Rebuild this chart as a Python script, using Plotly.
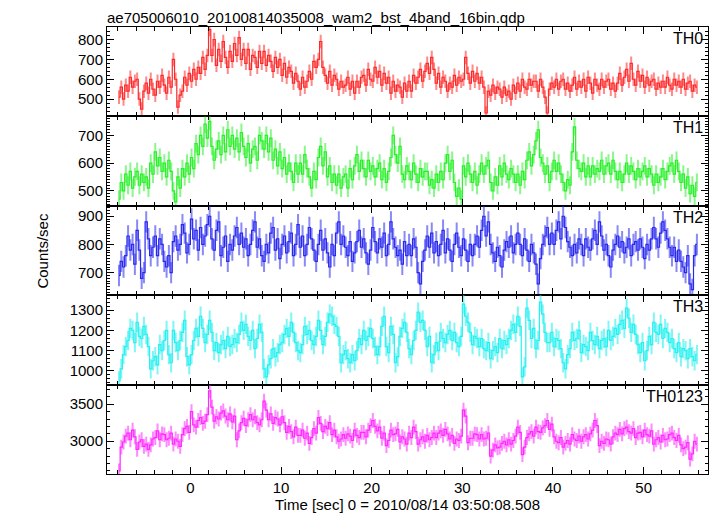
import numpy as np
import plotly.graph_objects as go
from plotly.subplots import make_subplots

# ---- data (counts/sec, 0.25 s bins starting at t = -8 s) ----
BIN_START = -8.0
BIN_WIDTH = 0.25

TH0 = [
    510, 560, 500, 570, 540, 610, 560, 590, 600, 500, 450, 540, 580, 530, 600, 550,
    520, 590, 560, 620, 570, 530, 610, 560, 700, 600, 460, 520, 540, 610, 570, 630,
    590, 650, 600, 660, 630, 710, 650, 720, 850, 720, 800, 670, 750, 690, 790, 710,
    660, 740, 690, 780, 720, 810, 700, 750, 680, 750, 650, 720, 710, 660, 740, 680,
    740, 670, 720, 690, 640, 710, 660, 700, 620, 680, 610, 660, 640, 580, 630, 590,
    550, 610, 560, 590, 640, 600, 690, 660, 700, 790, 660, 620, 580, 640, 570, 620,
    600, 550, 590, 560, 570, 610, 550, 590, 530, 590, 560, 610, 620, 570, 650, 600,
    590, 660, 610, 640, 570, 630, 580, 610, 530, 590, 540, 570, 560, 510, 580, 540,
    590, 540, 620, 580, 610, 650, 590, 640, 680, 630, 710, 650, 580, 630, 560, 610,
    590, 540, 580, 560, 620, 570, 610, 590, 600, 710, 630, 580, 640, 590, 630, 580,
    610, 560, 430, 540, 520, 570, 530, 560, 550, 510, 560, 520, 540, 500, 570, 530,
    580, 540, 600, 560, 550, 600, 570, 590, 590, 540, 600, 560, 510, 430, 550, 580,
    560, 600, 550, 590, 600, 550, 580, 540, 570, 610, 550, 590, 560, 600, 540, 610,
    580, 530, 600, 570, 550, 600, 560, 590, 600, 550, 580, 540, 580, 630, 570, 610,
    650, 590, 680, 600, 570, 640, 590, 620, 560, 610, 570, 590, 600, 550, 580, 560,
    590, 560, 610, 570, 550, 600, 570, 590, 560, 600, 550, 580, 590, 540, 570, 560,
]

TH1 = [
    470, 530, 500, 560, 520, 570, 510, 550, 570, 520, 560, 530, 550, 510, 600, 560,
    640, 590, 620, 570, 600, 550, 610, 570, 500, 460, 550, 510, 580, 550, 600, 560,
    620, 580, 670, 630, 700, 660, 740, 690, 750, 660, 610, 650, 680, 630, 700, 640,
    720, 660, 700, 650, 690, 640, 710, 660, 620, 670, 600, 650, 660, 610, 700, 680,
    650, 700, 640, 690, 610, 650, 590, 640, 580, 620, 560, 600, 570, 530, 600, 560,
    600, 560, 630, 580, 550, 510, 570, 540, 620, 660, 590, 640, 550, 590, 530, 560,
    520, 560, 510, 550, 560, 510, 580, 540, 590, 630, 570, 610, 580, 550, 610, 570,
    590, 550, 580, 600, 540, 580, 530, 570, 620, 700, 630, 600, 660, 560, 540, 590,
    570, 540, 600, 560, 530, 580, 550, 570, 570, 520, 540, 510, 560, 530, 570, 540,
    600, 630, 570, 610, 530, 480, 510, 470, 590, 550, 600, 560, 530, 570, 520, 560,
    600, 560, 590, 610, 530, 500, 550, 520, 590, 550, 600, 560, 540, 580, 560, 530,
    560, 520, 570, 540, 610, 640, 590, 630, 680, 720, 620, 600, 560, 590, 530, 570,
    610, 570, 600, 560, 530, 500, 540, 520, 640, 730, 610, 580, 570, 600, 550, 590,
    550, 590, 560, 580, 570, 610, 560, 590, 600, 560, 610, 570, 540, 570, 530, 560,
    600, 560, 590, 570, 540, 580, 550, 570, 590, 550, 580, 560, 520, 560, 530, 550,
    580, 540, 570, 590, 600, 560, 610, 570, 530, 560, 510, 550, 490, 520, 480, 530,
]

TH2 = [
    690, 740, 720, 760, 830, 780, 800, 730, 850, 780, 680, 700, 880, 820, 760, 790,
    830, 760, 820, 800, 740, 720, 760, 700, 810, 830, 780, 800, 870, 840, 770, 800,
    890, 820, 850, 780, 860, 800, 830, 870, 900, 820, 780, 850, 880, 760, 790, 830,
    740, 800, 780, 830, 860, 800, 840, 790, 820, 760, 800, 850, 880, 790, 820, 760,
    740, 800, 770, 840, 860, 780, 820, 750, 800, 830, 770, 810, 840, 760, 800, 870,
    790, 830, 760, 800, 860, 820, 780, 740, 800, 850, 780, 820, 770, 720, 800, 760,
    840, 880, 800, 830, 790, 760, 810, 740, 770, 810, 850, 790, 820, 770, 730, 780,
    860, 810, 770, 820, 790, 840, 760, 800, 880, 820, 790, 760, 780, 730, 810, 760,
    800, 760, 820, 790, 700, 660, 740, 780, 830, 790, 840, 770, 810, 760, 800, 850,
    770, 820, 780, 740, 800, 840, 790, 760, 820, 780, 740, 800, 760, 800, 830, 790,
    850, 900, 830, 880, 800, 770, 740, 790, 760, 720, 780, 810, 790, 830, 770, 800,
    840, 800, 760, 820, 780, 740, 800, 770, 730, 660, 750, 800, 830, 860, 800, 840,
    800, 850, 880, 820, 900, 860, 810, 790, 760, 800, 770, 820, 800, 760, 820, 790,
    780, 820, 850, 800, 880, 830, 780, 800, 760, 720, 780, 800, 830, 790, 810, 770,
    790, 820, 760, 800, 810, 780, 820, 790, 750, 800, 780, 820, 860, 820, 790, 840,
    880, 850, 820, 790, 760, 790, 740, 780, 740, 720, 700, 760, 660, 640, 760, 800,
]

TH3 = [
    950, 1010, 1080, 1120, 1150, 1210, 1200, 1140, 1240, 1170, 1160, 1220, 1180, 1120, 1010, 1050,
    1070, 1030, 1130, 1100, 1150, 1200, 1080, 1040, 1200, 1140, 1100, 1150, 1190, 1250, 1070, 1030,
    1080, 1150, 1210, 1170, 1270, 1210, 1140, 1180, 1250, 1190, 1100, 1140, 1090, 1130, 1150, 1110,
    1170, 1120, 1130, 1160, 1140, 1180, 1240, 1200, 1230, 1170, 1150, 1200, 1110, 1160, 1230, 1190,
    1010, 970, 1030, 1060, 1110, 1070, 1090, 1130, 1140, 1180, 1210, 1170, 1240, 1190, 1140, 1100,
    1090, 1130, 1220, 1180, 1200, 1150, 1130, 1170, 1250, 1200, 1130, 1170, 1240, 1280, 1270, 1230,
    1220, 1170, 1040, 1080, 1100, 1060, 1040, 1080, 1050, 1100, 1160, 1130, 1200, 1150, 1170, 1210,
    1160, 1120, 1080, 1120, 1220, 1270, 1120, 1090, 1220, 1180, 1040, 1070, 1170, 1210, 1240, 1190,
    1110, 1080, 1150, 1200, 1290, 1240, 1250, 1200, 1120, 1170, 1040, 1080, 1140, 1100, 1190, 1160,
    1140, 1180, 1200, 1150, 1190, 1140, 1120, 1170, 1330, 1270, 1240, 1190, 1130, 1170, 1160, 1120,
    1160, 1110, 1100, 1140, 1060, 1100, 1120, 1090, 1160, 1110, 1150, 1130, 1160, 1200, 1230, 1190,
    1270, 1220, 970, 1020, 1310, 1250, 1160, 1210, 1110, 1150, 1340, 1280, 1190, 1140, 1140, 1190,
    1120, 1160, 1150, 1110, 1040, 1010, 1080, 1110, 1190, 1150, 1160, 1200, 1090, 1130, 1120, 1100,
    1190, 1150, 1130, 1170, 1110, 1150, 1160, 1120, 1200, 1150, 1170, 1210, 1180, 1230, 1250, 1210,
    1310, 1260, 1190, 1230, 1180, 1130, 1090, 1140, 1050, 1100, 1170, 1130, 1240, 1190, 1180, 1230,
    1160, 1210, 1190, 1140, 1160, 1110, 1090, 1140, 1070, 1110, 1100, 1060, 1110, 1070, 1050, 1080,
]

TH0123 = [
    2600, 2920, 2990, 3070, 3110, 3020, 3150, 3060, 2890, 2990, 3020, 2930, 2960, 2890, 2950, 3030,
    3050, 3140, 3020, 3100, 3090, 3020, 3040, 3110, 2960, 3030, 3000, 2930, 3090, 3170, 3200, 3120,
    3400, 3220, 3190, 3280, 3320, 3240, 3270, 3360, 3680, 3460, 3270, 3330, 3300, 3380, 3410, 3340,
    3290, 3370, 3260, 3340, 3020, 3140, 3250, 3310, 3210, 3290, 3360, 3290, 3330, 3250, 3220, 3290,
    3540, 3420, 3290, 3370, 3240, 3320, 3300, 3220, 3330, 3250, 3120, 3200, 3130, 3060, 3190, 3080,
    3080, 3150, 3040, 3110, 2970, 3050, 3170, 3110, 3320, 3240, 3130, 3200, 3170, 3250, 3090, 3150,
    3060, 3000, 3030, 3090, 3040, 3100, 3070, 3010, 3150, 3080, 3050, 3120, 3120, 3060, 3150, 3210,
    3280, 3200, 3140, 3190, 3040, 3110, 2940, 3010, 3150, 3090, 3100, 3160, 2990, 3060, 3030, 2960,
    3110, 3050, 3190, 3130, 2960, 3020, 3060, 3000, 3080, 3020, 3050, 3110, 3050, 3110, 3140, 3080,
    3160, 3100, 3030, 3080, 2970, 3030, 3010, 3070, 3420, 3340, 2980, 3040, 3040, 3100, 3090, 3030,
    3090, 3030, 3040, 3110, 2800, 2880, 2950, 2910, 2920, 2970, 3000, 2950, 3020, 2960, 3010, 3070,
    3190, 3120, 2820, 2920, 3050, 3100, 3130, 3070, 3190, 3130, 3120, 3180, 3210, 3280, 3160, 3230,
    3060, 3000, 2980, 3050, 2920, 2970, 3010, 2960, 3090, 3030, 3010, 3070, 3000, 3060, 3090, 3030,
    3100, 3150, 3280, 3210, 2940, 3000, 2970, 3030, 3020, 2960, 3060, 3110, 3090, 3160, 3100, 3170,
    3190, 3130, 3110, 3170, 3050, 3110, 3120, 3060, 3150, 3090, 3070, 3140, 2960, 3020, 3050, 2990,
    3080, 3020, 3030, 3090, 3110, 3050, 3010, 3080, 2950, 2900, 2920, 2980, 2760, 2830, 3000, 2960,
]

PANEL_LABELS = ["TH0", "TH1", "TH2", "TH3", "TH0123"]
PANEL_SERIES = [TH0, TH1, TH2, TH3, TH0123]
PANEL_ERRORS = [34, 32, 38, 48, 100]
PANEL_COLORS = ["#ff2828", "#28f028", "#2828f0", "#28f0f0", "#ff28ff"]
PANEL_BAR_COLORS = ["rgba(255,40,40,0.55)", "rgba(40,240,40,0.55)", "rgba(40,40,240,0.55)",
                    "rgba(40,240,240,0.6)", "rgba(255,40,255,0.55)"]
PANEL_RANGES = [[413, 863], [446, 768], [620, 937], [932, 1374], [2558, 3764]]
PANEL_TICKS = [[500, 600, 700, 800], [500, 600, 700], [700, 800, 900],
               [1000, 1100, 1200, 1300], [3000, 3500]]
PANEL_MINOR = [20, 10, 10, 20, 100]
X_TICKS = [0, 10, 20, 30, 40, 50]

FONT = "Liberation Sans, Arial, sans-serif"

fig = make_subplots(rows=5, cols=1, shared_xaxes=True, vertical_spacing=0)

for i, (name, series) in enumerate(zip(PANEL_LABELS, PANEL_SERIES)):
    y = np.array(series, dtype=float)
    t = BIN_START + BIN_WIDTH * (np.arange(len(y)) + 0.5)
    fig.add_trace(go.Scatter(
        x=t, y=y, mode="lines",
        line=dict(color=PANEL_COLORS[i], width=1.2, shape="hvh"),
        error_y=dict(type="constant", value=PANEL_ERRORS[i], color=PANEL_BAR_COLORS[i],
                     thickness=2, width=0),
        showlegend=False, hoverinfo="skip",
    ), row=i + 1, col=1)
    fig.update_yaxes(
        range=PANEL_RANGES[i], tickvals=PANEL_TICKS[i],
        ticks="inside", ticklen=7, tickwidth=1, tickcolor="black",
        minor=dict(dtick=PANEL_MINOR[i], ticks="inside", ticklen=3, tickcolor="black"),
        showline=True, linecolor="black", linewidth=1, mirror="ticks",
        showgrid=False, zeroline=False,
        tickfont=dict(family=FONT, size=15, color="black"),
        row=i + 1, col=1)
    fig.update_xaxes(
        range=[-9.2, 57.1], tickvals=X_TICKS,
        ticks="inside", ticklen=7, tickwidth=1, tickcolor="black",
        minor=dict(dtick=2, ticks="inside", ticklen=4, tickcolor="black"),
        showline=True, linecolor="black", linewidth=1, mirror="ticks",
        showgrid=False, zeroline=False,
        showticklabels=(i == 4),
        tickfont=dict(family=FONT, size=15, color="black"),
        row=i + 1, col=1)
    yref = "y domain" if i == 0 else f"y{i + 1} domain"
    fig.add_annotation(text=name, x=1, y=1, xref="x domain", yref=yref,
                       xanchor="right", yanchor="top", xshift=-3, yshift=-1,
                       showarrow=False,
                       font=dict(family=FONT, size=16, color="black"))

fig.update_xaxes(title=dict(text="Time [sec] 0 = 2010/08/14 03:50:08.508",
                            font=dict(family=FONT, size=15, color="black"),
                            standoff=2),
                 row=5, col=1)

# the page body has an 8 px margin, so the figure is 8 px smaller and margins shifted
W, H = 709, 508
ML, MR, MT, MB = 99, 8, 19, 40

fig.add_annotation(text="Counts/sec", x=(34 - ML) / (W - ML - MR), y=0.5,
                   xref="paper", yref="paper",
                   showarrow=False, textangle=-90, xanchor="center", yanchor="middle",
                   font=dict(family=FONT, size=15, color="black"))

fig.update_layout(
    width=W, height=H,
    margin=dict(l=ML, r=MR, t=MT, b=MB),
    paper_bgcolor="white", plot_bgcolor="white",
    title=dict(text="ae705006010_20100814035008_wam2_bst_4band_16bin.qdp",
               x=ML / W, xanchor="left", y=1 - 4 / H, yanchor="top",
               font=dict(family=FONT, size=15, color="black")),
)

fig.write_html("out.html")
